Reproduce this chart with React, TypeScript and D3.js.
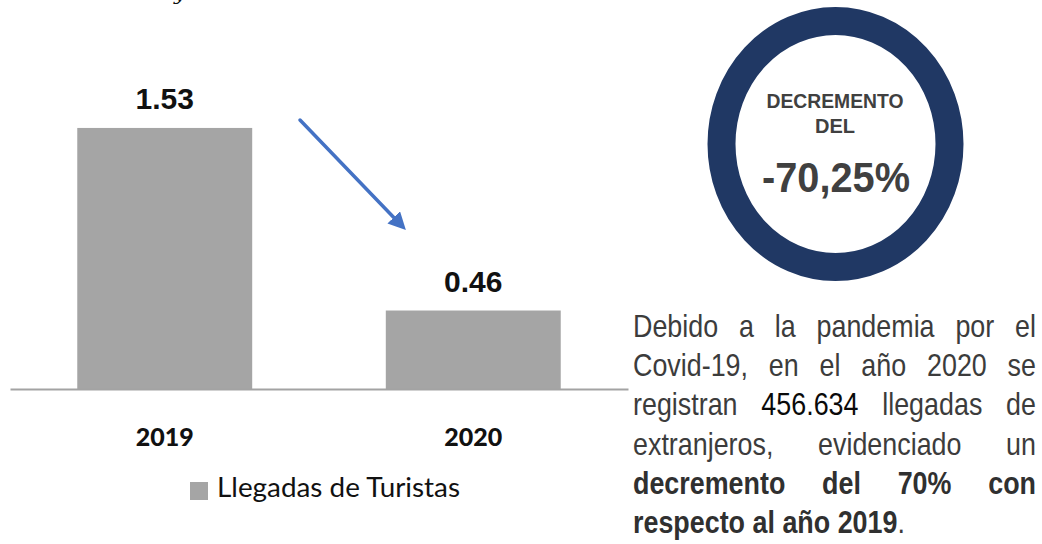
import React, { useEffect, useRef } from "react";
import * as d3 from "d3";

// ---- data ----
const categories: string[] = ["2019", "2020"];
const values: number[] = [1.53, 0.46];
const seriesName = "Llegadas de Turistas";
const badgeLines: string[] = ["DECREMENTO", "DEL"];
const badgeValue = "-70,25%";
type Word = { t: string; bold?: boolean; dark?: boolean };
const paragraphLines: Word[][] = [
  [{ t: "Debido" }, { t: "a" }, { t: "la" }, { t: "pandemia" }, { t: "por" }, { t: "el" }],
  [{ t: "Covid-19," }, { t: "en" }, { t: "el" }, { t: "año" }, { t: "2020" }, { t: "se" }],
  [{ t: "registran" }, { t: "456.634", dark: true }, { t: "llegadas" }, { t: "de" }],
  [{ t: "extranjeros," }, { t: "evidenciado" }, { t: "un" }],
  [{ t: "decremento", bold: true }, { t: "del", bold: true }, { t: "70%", bold: true }, { t: "con", bold: true }],
  [{ t: "respecto", bold: true }, { t: "al", bold: true }, { t: "año", bold: true }, { t: "2019", bold: true }, { t: ".", bold: false }],
];

const W = 1042;
const H = 544;

export default function App() {
  const ref = useRef<SVGSVGElement>(null);

  useEffect(() => {
    const svg = d3.select(ref.current!);
    svg.selectAll("*").remove();

    svg.append("rect").attr("width", W).attr("height", H).attr("fill", "#ffffff");

    // cropped glyph at the very top (descender of text above the crop)
    svg.append("text").attr("x", 174).attr("y", 0).attr("font-family", "DejaVu Serif, serif")
      .attr("font-style", "italic").attr("font-size", 20).attr("fill", "#111").text("y");

    // ---- bar chart ----
    const x = d3.scaleBand<string>().domain(categories).range([10, 628]).paddingInner(0.433).paddingOuter(0.218);
    const y = d3.scaleLinear().domain([0, 1.6]).range([389, 116]);

    svg.append("g").selectAll("rect").data(values).join("rect")
      .attr("x", (_d, i) => x(categories[i])!)
      .attr("y", (d) => y(d))
      .attr("width", x.bandwidth())
      .attr("height", (d) => y(0) - y(d))
      .attr("fill", "#a5a5a5");

    svg.append("g").selectAll("text").data(values).join("text")
      .attr("x", (_d, i) => x(categories[i])! + x.bandwidth() / 2)
      .attr("y", (d) => y(d) - 19)
      .attr("text-anchor", "middle")
      .attr("font-family", "Liberation Sans, Arial, sans-serif")
      .attr("font-weight", "bold")
      .attr("font-size", 30)
      .attr("fill", "#111")
      .text((d) => d3.format(".2f")(d));

    const axis = svg.append("g").attr("transform", `translate(0,${y(0)})`)
      .call(d3.axisBottom(x).tickSize(0).tickSizeOuter(0).tickPadding(0));
    axis.select(".domain").attr("stroke", "#a3a3a3").attr("stroke-width", 2);
    axis.selectAll(".tick text")
      .attr("y", 57).attr("dy", 0)
      .attr("font-family", "Lato, sans-serif")
      .attr("font-weight", 900)
      .attr("font-size", 25)
      .attr("fill", "#111");
    axis.attr("font-family", null).attr("font-size", null);

    // legend
    svg.append("rect").attr("x", 190).attr("y", 482).attr("width", 18).attr("height", 18).attr("fill", "#a5a5a5");
    svg.append("text").attr("x", 217).attr("y", 497)
      .attr("font-family", "Lato, sans-serif").attr("font-size", 26).attr("fill", "#111")
      .attr("textLength", 243).attr("lengthAdjust", "spacingAndGlyphs")
      .text(seriesName);

    // arrow
    const defs = svg.append("defs");
    defs.append("marker").attr("id", "ah").attr("viewBox", "0 0 10 10").attr("refX", 6).attr("refY", 5)
      .attr("markerWidth", 5).attr("markerHeight", 5).attr("orient", "auto")
      .append("path").attr("d", "M0,0 L10,5 L0,10 Z").attr("fill", "#4472c4");
    svg.append("line").attr("x1", 300).attr("y1", 120).attr("x2", 401).attr("y2", 225)
      .attr("stroke", "#4472c4").attr("stroke-width", 3.5).attr("stroke-linecap", "round")
      .attr("marker-end", "url(#ah)");

    // ---- badge ----
    svg.append("ellipse").attr("cx", 835.5).attr("cy", 144).attr("rx", 114).attr("ry", 123)
      .attr("fill", "none").attr("stroke", "#203864").attr("stroke-width", 28);
    svg.append("text").attr("x", 835).attr("y", 108).attr("text-anchor", "middle")
      .attr("font-family", "Liberation Sans, Arial, sans-serif").attr("font-weight", "bold")
      .attr("font-size", 20).attr("fill", "#404040")
      .attr("textLength", 137).attr("lengthAdjust", "spacingAndGlyphs").text(badgeLines[0]);
    svg.append("text").attr("x", 835).attr("y", 133).attr("text-anchor", "middle")
      .attr("font-family", "Liberation Sans, Arial, sans-serif").attr("font-weight", "bold")
      .attr("font-size", 20).attr("fill", "#404040")
      .attr("textLength", 40).attr("lengthAdjust", "spacingAndGlyphs").text(badgeLines[1]);
    svg.append("text").attr("x", 836).attr("y", 192).attr("text-anchor", "middle")
      .attr("font-family", "Liberation Sans, Arial, sans-serif").attr("font-weight", "bold")
      .attr("font-size", 43).attr("fill", "#404040")
      .attr("textLength", 148).attr("lengthAdjust", "spacingAndGlyphs").text(badgeValue);

    // ---- justified paragraph ----
    const L = 633, R = 1036, sx = 0.84, fs = 32;
    const base0 = 337, lh = 39.2;
    const pg = svg.append("g");
    paragraphLines.forEach((line, li) => {
      const by = base0 + li * lh;
      const nodes = line.map((w) =>
        pg.append("text")
          .attr("font-family", "Liberation Sans, Arial, sans-serif")
          .attr("font-size", fs)
          .attr("font-weight", w.bold ? "bold" : "normal")
          .attr("fill", w.dark ? "#0a0a0a" : w.bold ? "#303030" : "#3c3c3c")
          .text(w.t)
      );
      const widths = nodes.map((n) => (n.node() as SVGTextElement).getComputedTextLength() * sx);
      const total = d3.sum(widths);
      const last = li === paragraphLines.length - 1;
      let xpos = L;
      nodes.forEach((n, i) => {
        n.attr("transform", `translate(${xpos},${by}) scale(${sx},1)`);
        let gap: number;
        if (last) {
          const next = line[i + 1];
          gap = next && next.t === "." ? 0 : fs * 0.278 * sx;
        } else {
          gap = (R - L - total) / (line.length - 1);
        }
        xpos += widths[i] + gap;
      });
    });
  }, []);

  return (
    <svg
      ref={ref}
      width={W}
      height={H}
      style={{ position: "absolute", left: 0, top: 0, display: "block" }}
    />
  );
}
